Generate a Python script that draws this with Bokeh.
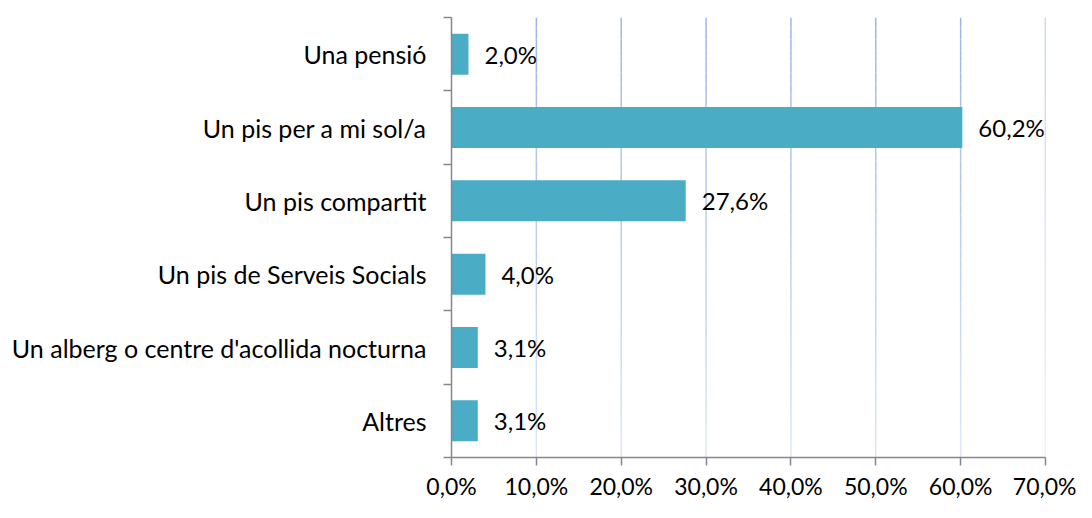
from bokeh.plotting import figure
from bokeh.models import Range1d, FixedTicker
from bokeh.core.properties import value
from bokeh.embed import file_html
from bokeh.resources import INLINE
import numpy as np

categories = ["Una pensió", "Un pis per a mi sol/a", "Un pis compartit",
              "Un pis de Serveis Socials", "Un alberg o centre d'acollida nocturna", "Altres"]
values = [2.0, 60.2, 27.6, 4.0, 3.1, 3.1]
x_ticks = [0, 10, 20, 30, 40, 50, 60, 70]
x_tick_labels = ["0,0%", "10,0%", "20,0%", "30,0%", "40,0%", "50,0%", "60,0%", "70,0%"]
value_labels = [f"{v:.1f}".replace(".", ",") + "%" for v in values]

FONT = "Lato"
n = len(categories)
ypos = [n - i - 0.5 for i in range(n)]

p = figure(width=1076, height=502, output_backend="svg", toolbar_location=None,
           x_range=Range1d(0, 70), y_range=Range1d(0, n),
           min_border_left=451, min_border_right=31, min_border_top=17, min_border_bottom=32)
p.outline_line_color = None
p.xgrid.visible = False
p.ygrid.visible = False

# gradient gridlines
top_c = np.array([157, 182, 229])
bot_c = np.array([222, 231, 246])
N = 40
x0s, x1s, y0s, y1s, cols = [], [], [], [], []
for xv in x_ticks[1:]:
    for k in range(N):
        ya = n * k / N
        yb = n * (k + 1) / N
        t = (k + 0.5) / N
        c = (bot_c * (1 - t) + top_c * t).astype(int)
        x0s.append(xv); x1s.append(xv); y0s.append(ya); y1s.append(yb)
        cols.append("#%02x%02x%02x" % tuple(c))
p.segment(x0=x0s, y0=y0s, x1=x1s, y1=y1s, line_color=cols, line_width=1.5)

p.hbar(y=ypos, right=values, left=0, height=0.56, fill_color="#4BACC6", line_color=None)
p.text(x=values, y=ypos, text=value_labels, x_offset=16, text_align="left",
       text_baseline="middle", text_font=value(FONT), text_font_size="24px", text_color="#000000")

ax = p.xaxis[0]
ax.ticker = FixedTicker(ticks=x_ticks)
ax.major_label_overrides = {t: l for t, l in zip(x_ticks, x_tick_labels)}
ax.axis_line_color = "#878787"
ax.axis_line_width = 1.5
ax.major_tick_line_color = "#878787"
ax.major_tick_line_width = 1.5
ax.major_tick_out = 8
ax.major_tick_in = 0
ax.minor_tick_line_color = None
ax.major_label_text_font = FONT
ax.major_label_text_font_size = "23px"
ax.major_label_text_color = "#000000"
ax.major_label_standoff = 6

ay = p.yaxis[0]
ay.ticker = FixedTicker(ticks=ypos, minor_ticks=list(range(n + 1)))
ay.major_label_overrides = {y: c for y, c in zip(ypos, categories)}
ay.axis_line_color = "#878787"
ay.axis_line_width = 1.5
ay.major_tick_line_color = None
ay.major_tick_out = 0
ay.major_tick_in = 0
ay.minor_tick_line_color = "#878787"
ay.minor_tick_line_width = 1.5
ay.minor_tick_out = 8
ay.minor_tick_in = 0
ay.major_label_text_font = FONT
ay.major_label_text_font_size = "25px"
ay.major_label_text_color = "#000000"
ay.major_label_standoff = 17

open("out.html", "w").write(file_html(p, INLINE))
